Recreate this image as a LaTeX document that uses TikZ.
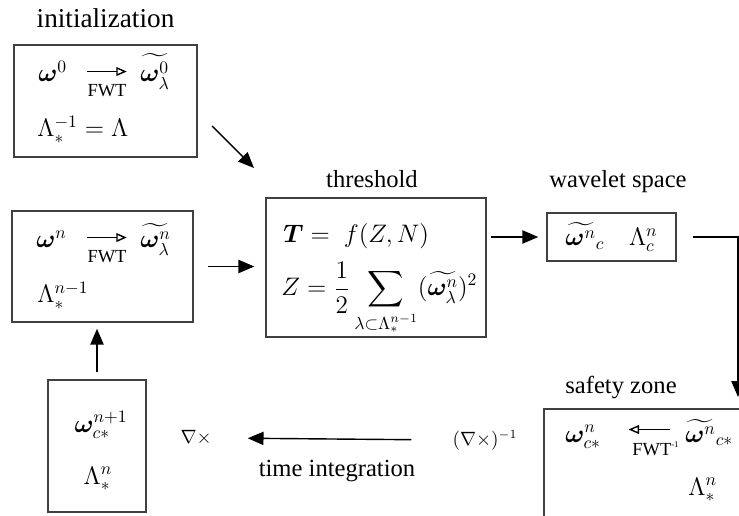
\documentclass[tikz,border=0pt]{standalone}
\usepackage{amsmath,bm}
\usepackage{fontspec}
\setmainfont{Liberation Serif}
\usetikzlibrary{arrows.meta,positioning}

\begin{document}
\begin{tikzpicture}[
  x=0.02cm, y=-0.02cm,
  box/.style={rectangle, draw=black!75, line width=0.85pt, inner sep=0pt},
  arr/.style={-{Triangle[length=9pt,width=7.5pt]}, line width=0.8pt},
  fwt/.style={-{Triangle[open,length=6pt,width=5pt]}, line width=0.8pt},
  tag/.style={font=\fontsize{10.5}{12}\selectfont, inner sep=0pt, anchor=base},
  txt/.style={inner sep=0pt, anchor=base},
  font=\fontsize{14}{17}\selectfont
]
\useasboundingbox (0,0) rectangle (739,516);

% boxes
\node[box, minimum width=3.66cm, minimum height=2.24cm] (init) at (105.5,101) {};
\node[box, minimum width=3.62cm, minimum height=2.22cm] (loop) at (102.5,266.5) {};
\node[box, minimum width=4.4cm, minimum height=2.78cm] (thr) at (376,267.5) {};
\node[box, minimum width=2.58cm, minimum height=0.96cm] (wav) at (611.5,237) {$\widetilde{\bm\omega^n}_c\quad\Lambda^n_c$};
\node[box, minimum width=1.96cm, minimum height=2.64cm] (upd) at (97,446) {};
\node[box, minimum width=4.4cm, minimum height=2.7cm] (safe) at (654,476.5) {};

% titles
\node[txt, font=\fontsize{15.5}{18}\selectfont] (tinit) at (105.5,28) {initialization};
\node[txt] (tthr) at (372,188) {threshold};
\node[txt] (twav) at (618,188) {wavelet space};
\node[txt] (tsafe) at (621,393) {safety zone};
\node[txt] (ttime) at (337,476) {time integration};

% initialization
\node[txt, anchor=base west] (w0) at (38,82) {$\bm\omega^0$};
\node[tag] (fwt0) at (107,97) {FWT};
\node[txt, anchor=base west] (wt0) at (140,82) {$\widetilde{\bm\omega^0_\lambda}$};
\node[txt, anchor=base west] (lam0) at (37,137) {$\Lambda_*^{-1} = \Lambda$};
\draw[fwt] ([yshift=14.5pt]fwt0.base west) -- ([yshift=14.5pt]fwt0.base east);

% loop start
\node[txt, anchor=base west] (wn) at (36,248) {$\bm\omega^n$};
\node[tag] (fwtn) at (107,263) {FWT};
\node[txt, anchor=base west] (wtn) at (140,248) {$\widetilde{\bm\omega^n_\lambda}$};
\node[txt, anchor=base west] (lamn) at (37,303) {$\Lambda_*^{n-1}$};
\draw[fwt] ([yshift=14.5pt]fwtn.base west) -- ([yshift=14.5pt]fwtn.base east);

% threshold
\node[txt, anchor=base west] (teq) at (283,243) {$\bm T = \;f(Z,N)$};
\node[txt, anchor=base west] (zeq) at (281,296) {$\displaystyle Z = \frac{1}{2}\sum_{\lambda\subset\Lambda_*^{n-1}} (\widetilde{\bm\omega^n_\lambda})^2$};

% safety zone
\node[txt, anchor=base west] (wc) at (565,442) {$\bm\omega^n_{c*}$};
\node[tag, anchor=base west] (fwti) at (632,455) {FWT\raisebox{4pt}{\fontsize{5}{6}\selectfont-1}};
\node[txt, anchor=base west] (wtc) at (685,442) {$\widetilde{\bm\omega^n}_{c*}$};
\node[txt, anchor=base west] (lamc) at (688,495) {$\Lambda^n_*$};
\draw[fwt] ([xshift=-5pt,yshift=14.5pt]fwti.base east) -- ([xshift=-2pt,yshift=14.5pt]fwti.base west);

% update
\node[txt] (wnew) at (101,432) {$\bm\omega^{n+1}_{c*}$};
\node[txt] (lamnew) at (98,484) {$\Lambda^n_*$};

% curl
\node (curlinv) at (485,440) {\fontsize{10.5}{12}\selectfont$(\nabla\times)^{-1}$};
\node (curl) at (196,438) {\fontsize{10.5}{12}\selectfont$\nabla\times$};

% connectors
\coordinate (d1) at (212,126);
\coordinate (d2) at (254,168);
\coordinate (szin) at (738,397);
\draw[arr] (d1) -- (d2);
\draw[arr, shorten <=0.28cm, shorten >=0.22cm] (loop.east) -- (loop.east -| thr.west);
\draw[arr, shorten <=0.08cm, shorten >=0.16cm] (thr.east |- wav.west) -- (wav.west);
\draw[arr, shorten <=0.32cm] (wav.east) -| (szin);
\draw[arr, shorten <=0.7cm, shorten >=0.6cm] (curlinv.west) -- (curl.east);
\draw[arr, shorten <=0.14cm, shorten >=0.12cm] (upd.north) -- (upd.north |- loop.south);
\end{tikzpicture}
\end{document}
